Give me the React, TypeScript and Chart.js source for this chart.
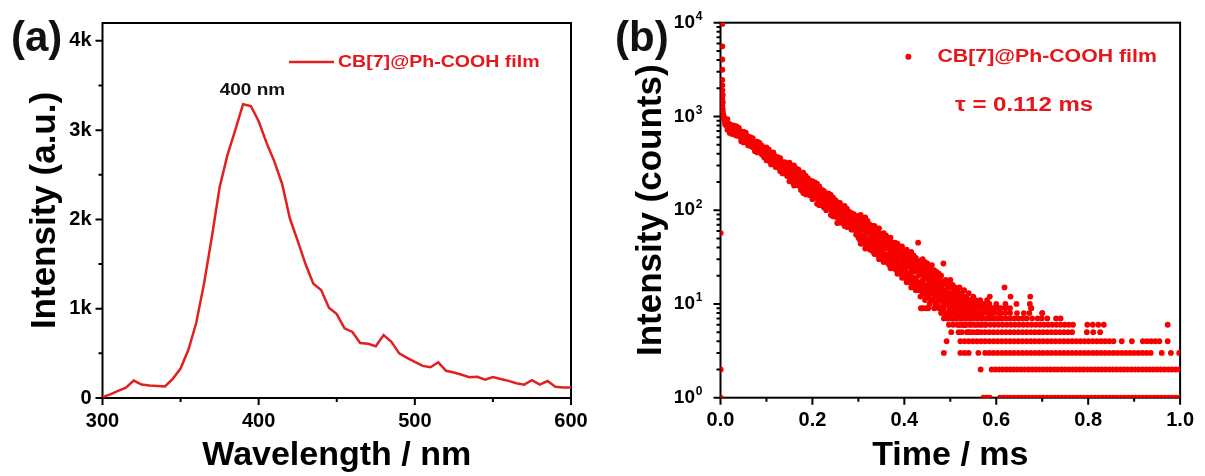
import React, { useEffect, useRef } from "react";
import { Chart, registerables } from "chart.js";
Chart.register(...registerables);

const FONT = "'Liberation Sans', Arial, Helvetica, sans-serif";

// ---------- Panel (a): emission spectrum ----------
const wavelengths = [300, 305, 310, 315, 320, 325, 330, 335, 340, 345, 350, 355, 360, 365, 370, 375, 380, 385, 390, 395, 400, 405, 410, 415, 420, 425, 430, 435, 440, 445, 450, 455, 460, 465, 470, 475, 480, 485, 490, 495, 500, 505, 510, 515, 520, 525, 530, 535, 540, 545, 550, 555, 560, 565, 570, 575, 580, 585, 590, 595, 600];
const intensities = [10, 40, 80, 115, 195, 150, 140, 135, 130, 215, 330, 540, 840, 1280, 1800, 2360, 2720, 3000, 3290, 3270, 3100, 2860, 2650, 2400, 2010, 1760, 1500, 1280, 1210, 1010, 940, 780, 740, 615, 608, 580, 705, 630, 500, 450, 405, 360, 345, 400, 305, 285, 260, 232, 238, 205, 235, 212, 192, 165, 150, 200, 150, 190, 125, 118, 118];
const spectrumXTicks = [300, 400, 500, 600];
const spectrumXMinorTicks = [350, 450, 550];
const spectrumYTicks = [0, 1000, 2000, 3000, 4000];
const spectrumYTickLabels = ["0", "1k", "2k", "3k", "4k"];
const spectrumYMinorTicks = [500, 1500, 2500, 3500];
const spectrumLabel = "CB[7]@Ph-COOH film";
const peakLabel = "400 nm";
const peakLabelPos = [396, 3440];

// ---------- Panel (b): decay curve ----------
const decaySpike = [
  [0.004, 9700], [0.004, 5600], [0.004, 4050], [0.004, 3150], [0.004, 2450], [0.004, 2150], [0.004, 1900],
  [0.005, 1700], [0.004, 1550], [0.005, 1420], [0.004, 1300], [0.005, 1200], [0.005, 1120], [0.006, 1050],
  [0.006, 990], [0.007, 1010], [0.007, 950], [0.008, 920], [0.009, 930], [0.009, 895], [0.010, 870],
  [0.010, 820], [0.011, 900], [0.011, 860], [0.012, 880], [0.012, 845], [0.013, 830], [0.013, 800],
  [0.0005, 57], [0.0005, 2], [0.0005, 1],
];
// each row: time (ms), then counts read at that time channel
const decayBand = [
  [0.015, 722, 788, 815, 938], [0.020, 667, 713, 783, 822], [0.025, 651, 718, 755, 807], [0.030, 641, 733, 769, 797],
  [0.035, 623, 637, 712, 781], [0.040, 619, 651, 724, 757], [0.045, 544, 581, 638, 670], [0.050, 529, 578, 596, 687],
  [0.055, 549, 578, 642, 672], [0.060, 493, 543, 571, 610], [0.065, 484, 554, 581, 603], [0.070, 470, 480, 537, 588],
  [0.075, 426, 455, 500, 525], [0.080, 413, 451, 466, 537], [0.085, 428, 450, 500, 523], [0.090, 392, 449, 471, 488],
  [0.095, 368, 405, 426, 456], [0.100, 340, 384, 408, 468], [0.105, 337, 402, 425, 444], [0.110, 308, 334, 367, 389],
  [0.115, 326, 344, 397, 414], [0.120, 289, 333, 346, 376], [0.125, 286, 295, 347, 369], [0.130, 261, 295, 313, 359],
  [0.135, 247, 268, 294, 312], [0.140, 247, 295, 312, 326], [0.145, 231, 266, 277, 301],
  [0.150, 203, 231, 249, 278, 321], [0.155, 207, 216, 251, 283, 298], [0.160, 183, 223, 247, 259, 301],
  [0.165, 185, 209, 223, 266, 277], [0.170, 185, 196, 230, 241, 271], [0.175, 164, 199, 205, 234, 244],
  [0.180, 153, 186, 206, 216, 251], [0.185, 148, 168, 181, 202, 234], [0.190, 147, 166, 177, 211, 220],
  [0.195, 144, 150, 174, 197, 207], [0.200, 131, 159, 164, 187, 204], [0.205, 135, 143, 168, 176, 198],
  [0.210, 117, 143, 158, 165, 192], [0.215, 113, 129, 139, 154, 179], [0.220, 115, 121, 140, 158, 166],
  [0.225, 107, 122, 130, 155, 161], [0.230, 100, 121, 125, 143, 149], [0.235, 103, 109, 128, 134, 151],
  [0.240, 89, 108, 120, 125, 146], [0.245, 86, 98, 106, 118, 136], [0.250, 85, 97, 103, 123, 128],
  [0.255, 73, 84, 88, 102, 115, 121], [0.260, 82, 86, 102, 106, 120], [0.265, 73, 88, 91, 104, 108],
  [0.270, 68, 83, 91, 96, 111], [0.275, 66, 75, 81, 90, 104], [0.280, 66, 70, 81, 91, 96],
  [0.285, 62, 71, 75, 90, 93], [0.290, 62, 66, 77, 81, 91], [0.295, 55, 67, 69, 79, 82],
  [0.300, 51, 63, 69, 73, 87], [0.305, 44, 54, 62, 72, 89], [0.310, 44, 49, 63, 73, 82],
  [0.315, 39, 54, 59, 75, 84], [0.320, 42, 49, 61, 65, 77], [0.325, 38, 45, 50, 67, 70],
  [0.330, 37, 40, 53, 61, 68], [0.335, 34, 41, 47, 55, 68], [0.340, 35, 41, 51, 54, 64],
  [0.345, 30, 41, 44, 57, 64], [0.350, 30, 35, 40, 53, 56], [0.355, 28, 34, 39, 46, 57],
  [0.360, 30, 34, 42, 45, 54], [0.365, 27, 30, 39, 45, 50], [0.370, 24, 33, 35, 46, 51],
  [0.375, 24, 28, 32, 42, 45], [0.380, 25, 28, 35, 38, 45], [0.385, 21, 26, 30, 35, 44],
  [0.390, 22, 24, 31, 36, 40], [0.395, 19, 26, 28, 36, 41], [0.400, 19, 23, 25, 34, 36],
  [0.405, 17, 21, 26, 30, 38], [0.410, 18, 20, 25, 31, 35], [0.415, 15, 22, 24, 29, 36],
  [0.420, 16, 19, 22, 27, 33], [0.425, 14, 18, 23, 25, 31], [0.430, 15, 17, 20, 26, 45],
  [0.435, 12, 16, 21, 24, 29], [0.440, 13, 17, 18, 23, 30], [0.445, 11, 15, 19, 22, 28],
  [0.450, 12, 14, 16, 21, 27], [0.455, 10, 13, 17, 20, 25], [0.460, 11, 14, 15, 19, 26],
  [0.465, 9, 12, 16, 18, 23], [0.470, 10, 13, 14, 17, 22], [0.475, 9, 11, 14, 16, 21],
  [0.480, 8, 12, 13, 15, 20], [0.485, 9, 10, 12, 16, 27], [0.490, 8, 11, 12, 14, 18],
  [0.495, 7, 10, 13, 15, 17], [0.500, 8, 9, 11, 13, 18], [0.505, 7, 10, 11, 12, 16],
  [0.510, 8, 9, 10, 13, 15], [0.515, 7, 8, 11, 12, 14], [0.520, 6, 8, 9, 11, 15],
  [0.525, 7, 9, 10, 12, 13], [0.530, 6, 8, 9, 11, 14], [0.535, 6, 7, 9, 10, 12],
  [0.540, 5, 8, 9, 10, 13], [0.545, 6, 7, 8, 10, 11], [0.550, 5, 7, 9, 10, 12],
  [0.555, 6, 8, 9, 11], [0.560, 5, 7, 8, 10], [0.565, 6, 8, 9, 11], [0.570, 7, 8, 10],
  [0.575, 6, 9, 10], [0.580, 7, 8, 9, 11], [0.585, 8, 10], [0.590, 7, 9], [0.595, 8, 9],
  [0.600, 7, 10], [0.605, 8, 9], [0.610, 7, 9], [0.620, 8, 10], [0.630, 9],
];
// in-between channels of the same decay
const decayBandMid = [
  [0.0175, 760, 845], [0.0225, 705, 790], [0.0275, 690, 770], [0.0325, 668, 745], [0.0375, 652, 710],
  [0.0425, 610, 690], [0.0475, 590, 660], [0.0525, 565, 630], [0.0575, 540, 610], [0.0625, 520, 590],
  [0.0675, 505, 560], [0.0725, 480, 545], [0.0775, 462, 515], [0.0825, 440, 500], [0.0875, 425, 478],
  [0.0925, 405, 462], [0.0975, 388, 440], [0.1025, 370, 425], [0.1075, 352, 410], [0.1125, 340, 390],
  [0.1175, 322, 375], [0.1225, 312, 358], [0.1275, 296, 342], [0.1325, 285, 330], [0.1375, 271, 315],
  [0.1425, 262, 302], [0.1475, 248, 290],
  [0.1525, 221, 262, 290], [0.1575, 228, 198, 268], [0.1625, 241, 212, 276], [0.1675, 196, 232, 251],
  [0.1725, 222, 180, 247], [0.1775, 176, 213, 229], [0.1825, 203, 171, 225], [0.1875, 160, 194, 212],
  [0.1925, 189, 158, 203], [0.1975, 152, 180, 194], [0.2025, 171, 139, 186], [0.2075, 146, 164, 181],
  [0.2125, 131, 156, 170], [0.2175, 150, 121, 164], [0.2225, 126, 145, 158], [0.2275, 116, 137, 149],
  [0.2325, 131, 110, 144], [0.2375, 106, 126, 138], [0.2425, 118, 97, 131], [0.2475, 99, 114, 127],
  [0.2525, 91, 109, 120], [0.2575, 104, 88, 116], [0.2625, 84, 99, 111], [0.2675, 95, 79, 106],
  [0.2725, 77, 90, 101], [0.2775, 87, 71, 97], [0.2825, 69, 82, 93], [0.2875, 79, 64, 89],
  [0.2925, 63, 76, 85], [0.2975, 72, 58, 81],
  [0.3025, 57, 69, 80, 49], [0.3075, 66, 53, 77, 47], [0.3125, 52, 64, 74, 45], [0.3175, 61, 48, 71, 42],
  [0.3225, 47, 58, 68, 41], [0.3275, 56, 44, 65, 38], [0.3325, 43, 53, 62, 36], [0.3375, 50, 40, 60, 35],
  [0.3425, 39, 48, 57, 33], [0.3475, 46, 37, 55, 32], [0.3525, 36, 44, 52, 31], [0.3575, 42, 34, 50, 29],
  [0.3625, 33, 41, 48, 28], [0.3675, 39, 31, 46, 26], [0.3725, 30, 37, 44, 25], [0.3775, 36, 28, 42, 24],
  [0.3825, 27, 34, 41, 23], [0.3875, 33, 26, 39, 22], [0.3925, 25, 31, 37, 21], [0.3975, 30, 24, 35, 20],
  [0.4025, 23, 28, 34, 19], [0.4075, 27, 21, 33, 18], [0.4125, 20, 26, 31, 17], [0.4175, 25, 19, 30, 16],
  [0.4225, 18, 24, 29, 16], [0.4275, 23, 17, 28, 15], [0.4325, 17, 22, 27, 14], [0.4375, 21, 16, 26, 14],
  [0.4425, 15, 20, 25, 13], [0.4475, 19, 15, 24, 12], [0.4525, 14, 18, 23, 12], [0.4575, 17, 13, 22, 11],
  [0.4625, 13, 16, 21, 11], [0.4675, 15, 12, 20, 10], [0.4725, 12, 15, 19, 10], [0.4775, 14, 11, 18, 9],
  [0.4825, 11, 14, 17, 9], [0.4875, 13, 10, 17, 8], [0.4925, 10, 12, 16, 8], [0.4975, 12, 9, 15, 8],
  [0.5025, 9, 11, 15, 7], [0.5075, 11, 9, 14, 7], [0.5125, 9, 10, 13, 7], [0.5175, 10, 8, 13, 6],
  [0.5225, 8, 10, 12, 7], [0.5275, 9, 8, 12, 6], [0.5325, 8, 9, 11, 6], [0.5375, 8, 9, 11],
  [0.5425, 7, 9, 11], [0.5475, 8, 10],
];
const decayOutliers = [
  [0.254, 73], [0.300, 87], [0.365, 49], [0.436, 9], [0.447, 9], [0.586, 12], [0.618, 15],
  [0.631, 12], [0.644, 10], [0.673, 10], [0.674, 12], [0.676, 9], [0.700, 8],
];
const decayTailCounts = [1, 2, 3, 4, 5, 6, 7, 8, 9];
const decayTailTimes = [
  [0.572, 0.579, 0.586, 0.608, 0.616, 0.624, 0.631, 0.639, 0.647, 0.655, 0.663, 0.671, 0.679, 0.687, 0.695, 0.703, 0.711, 0.719, 0.727, 0.735, 0.743, 0.751, 0.759, 0.767, 0.775, 0.783, 0.791, 0.799, 0.807, 0.815, 0.823, 0.831, 0.839, 0.847, 0.855, 0.863, 0.871, 0.879, 0.887, 0.895, 0.903, 0.911, 0.919, 0.927, 0.935, 0.943, 0.951, 0.959, 0.967, 0.975, 0.983, 0.991, 0.999],
  [0.566, 0.590, 0.598, 0.606, 0.614, 0.622, 0.630, 0.638, 0.646, 0.654, 0.662, 0.670, 0.678, 0.686, 0.694, 0.702, 0.710, 0.718, 0.726, 0.734, 0.742, 0.750, 0.758, 0.766, 0.774, 0.782, 0.790, 0.798, 0.806, 0.814, 0.822, 0.830, 0.838, 0.846, 0.854, 0.862, 0.870, 0.878, 0.886, 0.894, 0.902, 0.910, 0.918, 0.926, 0.934, 0.942, 0.950, 0.958, 0.966, 0.974, 0.982, 0.990, 0.998],
  [0.486, 0.522, 0.531, 0.540, 0.561, 0.576, 0.585, 0.594, 0.603, 0.612, 0.621, 0.630, 0.639, 0.648, 0.657, 0.666, 0.675, 0.684, 0.693, 0.702, 0.711, 0.720, 0.729, 0.738, 0.747, 0.756, 0.765, 0.774, 0.783, 0.792, 0.801, 0.810, 0.819, 0.828, 0.837, 0.846, 0.855, 0.864, 0.873, 0.882, 0.891, 0.900, 0.909, 0.918, 0.927, 0.936, 0.960, 0.980, 0.998],
  [0.492, 0.522, 0.531, 0.540, 0.549, 0.558, 0.567, 0.576, 0.585, 0.594, 0.603, 0.612, 0.621, 0.630, 0.639, 0.648, 0.657, 0.666, 0.675, 0.684, 0.693, 0.702, 0.711, 0.720, 0.729, 0.738, 0.747, 0.756, 0.765, 0.774, 0.783, 0.792, 0.801, 0.810, 0.819, 0.828, 0.837, 0.846, 0.855, 0.873, 0.895, 0.919, 0.928, 0.937, 0.946, 0.955, 0.973],
  [0.502, 0.518, 0.525, 0.536, 0.543, 0.558, 0.567, 0.576, 0.585, 0.594, 0.603, 0.612, 0.621, 0.630, 0.639, 0.648, 0.657, 0.666, 0.675, 0.684, 0.693, 0.702, 0.711, 0.720, 0.729, 0.738, 0.747, 0.756, 0.765, 0.797, 0.811, 0.826],
  [0.497, 0.506, 0.515, 0.524, 0.533, 0.542, 0.551, 0.560, 0.569, 0.578, 0.587, 0.596, 0.605, 0.614, 0.623, 0.632, 0.641, 0.650, 0.659, 0.668, 0.677, 0.686, 0.695, 0.704, 0.713, 0.722, 0.731, 0.740, 0.749, 0.758, 0.767, 0.798, 0.810, 0.822, 0.834, 0.973],
  [0.486, 0.495, 0.504, 0.513, 0.522, 0.531, 0.540, 0.549, 0.558, 0.567, 0.576, 0.585, 0.594, 0.603, 0.612, 0.621, 0.630, 0.639, 0.648, 0.657, 0.666, 0.678, 0.690, 0.699, 0.711, 0.730, 0.740],
  [0.488, 0.510, 0.530, 0.550, 0.570, 0.590, 0.610, 0.630, 0.645, 0.660, 0.672, 0.700],
  [0.440, 0.452, 0.500, 0.550, 0.600, 0.620, 0.676],
];
const decayXTicks = [0, 0.2, 0.4, 0.6, 0.8, 1.0];
const decayXTickLabels = ["0.0", "0.2", "0.4", "0.6", "0.8", "1.0"];
const decayXMinorTicks = [0.1, 0.3, 0.5, 0.7, 0.9];
const decayYTicks = [1, 10, 100, 1000, 10000];
const decayYExponents = ["0", "1", "2", "3", "4"];
const decayYMinorFactors = [2, 3, 4, 5, 6, 7, 8, 9];
const decayLabel = "CB[7]@Ph-COOH film";
const lifetimeLabel = "\u03c4 = 0.112 ms";

const LINE_RED = "#E1201F";
const DOT_RED = "#F70000";
const TEXT_RED = "#E5161C";

function drawText(ctx: CanvasRenderingContext2D, text: string, x: number, y: number, font: string, color: string, align: CanvasTextAlign, sx: number, baseline: CanvasTextBaseline = "middle") {
  ctx.save();
  ctx.font = font;
  ctx.fillStyle = color;
  ctx.textAlign = align;
  ctx.textBaseline = baseline;
  ctx.translate(x, y);
  ctx.scale(sx, 1);
  ctx.fillText(text, 0, 0);
  ctx.restore();
}

function makeFramePlugin(xMajor: number[], xMinor: number[], yMajor: number[], yMinor: number[]) {
  return {
    id: "frame",
    beforeDatasetsDraw(chart: any) {
      const { ctx, chartArea: a, scales } = chart;
      const xs = scales.x, ys = scales.y;
      ctx.save();
      ctx.strokeStyle = "#000";
      ctx.lineWidth = 2;
      ctx.strokeRect(a.left, a.top, a.right - a.left, a.bottom - a.top);
      ctx.beginPath();
      const vt = (v: number, len: number) => {
        const p = xs.getPixelForValue(v);
        ctx.moveTo(p, a.bottom);
        ctx.lineTo(p, a.bottom + len);
      };
      const ht = (v: number, len: number) => {
        const p = ys.getPixelForValue(v);
        ctx.moveTo(a.left, p);
        ctx.lineTo(a.left - len, p);
      };
      xMajor.forEach((v) => vt(v, 7));
      xMinor.forEach((v) => vt(v, 4));
      yMajor.forEach((v) => ht(v, 7));
      yMinor.forEach((v) => ht(v, 4));
      ctx.stroke();
      ctx.restore();
    },
  };
}

const tickFont = { family: FONT, size: 20, weight: "bold" as const };
const titleFont = (size: number) => ({ family: FONT, size, weight: "bold" as const });

export default function App() {
  const refA = useRef<HTMLCanvasElement>(null);
  const refB = useRef<HTMLCanvasElement>(null);

  useEffect(() => {
    // ---- Panel (a)
    const annotA = {
      id: "annotA",
      afterDraw(chart: any) {
        const { ctx, scales } = chart;
        drawText(ctx, "(a)", 11, 50.5, `bold 42px ${FONT}`, "#111", "left", 1, "alphabetic");
        ctx.save();
        ctx.strokeStyle = LINE_RED;
        ctx.lineWidth = 2.5;
        ctx.beginPath();
        ctx.moveTo(289, 62);
        ctx.lineTo(334, 62);
        ctx.stroke();
        ctx.restore();
        drawText(ctx, spectrumLabel, 338, 62, `bold 17px ${FONT}`, TEXT_RED, "left", 1.15);
        const px = scales.x.getPixelForValue(peakLabelPos[0]);
        const py = scales.y.getPixelForValue(peakLabelPos[1]);
        drawText(ctx, peakLabel, px, py, `bold 16.5px ${FONT}`, "#111", "center", 1.15);
      },
    };
    const chartA = new Chart(refA.current as HTMLCanvasElement, {
      type: "line",
      data: {
        datasets: [
          {
            label: spectrumLabel,
            data: wavelengths.map((w, i) => ({ x: w, y: intensities[i] })),
            borderColor: LINE_RED,
            borderWidth: 2.5,
            pointRadius: 0,
            tension: 0,
            fill: false,
          },
        ],
      },
      options: {
        responsive: false,
        maintainAspectRatio: false,
        animation: false,
        layout: { padding: { left: 24.7, right: 34, top: 23, bottom: 0 } },
        plugins: { legend: { display: false }, tooltip: { enabled: false } },
        scales: {
          x: {
            type: "linear",
            min: 300,
            max: 600,
            afterBuildTicks: (s: any) => { s.ticks = spectrumXTicks.map((v) => ({ value: v })); },
            afterFit: (s: any) => { s.height = 78; },
            ticks: { font: tickFont, color: "#000", padding: 11, maxRotation: 0, autoSkip: false, callback: (v: any) => String(v) },
            grid: { display: false, drawTicks: false },
            border: { display: false },
            title: { display: true, text: "Wavelength / nm", font: titleFont(34), color: "#000", padding: 0 },
          },
          y: {
            type: "linear",
            min: 0,
            max: 4200,
            afterBuildTicks: (s: any) => { s.ticks = spectrumYTicks.map((v) => ({ value: v })); },
            afterFit: (s: any) => { s.width = 77.8; },
            ticks: { font: tickFont, color: "#000", padding: 11, autoSkip: false, callback: (_v: any, i: number) => spectrumYTickLabels[i] },
            grid: { display: false, drawTicks: false },
            border: { display: false },
            title: { display: true, text: "Intensity (a.u.)", font: titleFont(35), color: "#000", padding: 0 },
          },
        },
      } as any,
      plugins: [makeFramePlugin(spectrumXTicks, spectrumXMinorTicks, spectrumYTicks, spectrumYMinorTicks), annotA],
    });

    // ---- Panel (b)
    const points: { x: number; y: number }[] = [];
    decaySpike.forEach(([t, c]) => points.push({ x: t, y: c }));
    [...decayBand, ...decayBandMid].forEach((row) => {
      for (let i = 1; i < row.length; i++) points.push({ x: row[0], y: row[i] });
    });
    decayOutliers.forEach(([t, c]) => points.push({ x: t, y: c }));
    decayTailTimes.forEach((times, li) => times.forEach((t) => points.push({ x: t, y: decayTailCounts[li] })));

    const yMinor: number[] = [];
    decayYTicks.slice(0, -1).forEach((d) => decayYMinorFactors.forEach((f) => yMinor.push(d * f)));

    const annotB = {
      id: "annotB",
      afterDraw(chart: any) {
        const { ctx, scales, chartArea: a } = chart;
        drawText(ctx, "(b)", 10, 51, `bold 42px ${FONT}`, "#111", "left", 1, "alphabetic");
        decayYTicks.forEach((v, i) => {
          const py = scales.y.getPixelForValue(v);
          drawText(ctx, "10", a.left - 25.5, py, `bold 19px ${FONT}`, "#000", "right", 1);
          drawText(ctx, decayYExponents[i], a.left - 24.8, py - 6, `bold 12px ${FONT}`, "#000", "left", 1);
        });
        ctx.save();
        ctx.fillStyle = DOT_RED;
        ctx.beginPath();
        ctx.arc(303.4, 56.7, 3, 0, Math.PI * 2);
        ctx.fill();
        ctx.restore();
        drawText(ctx, decayLabel, 332.5, 56.7, `bold 18.5px ${FONT}`, TEXT_RED, "left", 1.15);
        drawText(ctx, lifetimeLabel, 350, 105, `bold 20px ${FONT}`, TEXT_RED, "left", 1.2);
      },
    };

    const chartB = new Chart(refB.current as HTMLCanvasElement, {
      type: "scatter",
      data: {
        datasets: [
          {
            label: decayLabel,
            data: points,
            backgroundColor: DOT_RED,
            borderWidth: 0,
            pointRadius: 2.9,
            clip: 0,
          },
        ],
      },
      options: {
        responsive: false,
        maintainAspectRatio: false,
        animation: false,
        layout: { padding: { left: 25.4, right: 20, top: 22.7, bottom: 0 } },
        plugins: { legend: { display: false }, tooltip: { enabled: false } },
        scales: {
          x: {
            type: "linear",
            min: 0,
            max: 1,
            afterBuildTicks: (s: any) => { s.ticks = decayXTicks.map((v) => ({ value: v })); },
            afterFit: (s: any) => { s.height = 78.3; },
            ticks: { font: tickFont, color: "#000", padding: 11, maxRotation: 0, autoSkip: false, callback: (_v: any, i: number) => decayXTickLabels[i] },
            grid: { display: false, drawTicks: false },
            border: { display: false },
            title: { display: true, text: "Time / ms", font: titleFont(34), color: "#000", padding: 0 },
          },
          y: {
            type: "logarithmic",
            min: 1,
            max: 10000,
            afterFit: (s: any) => { s.width = 90.1; },
            ticks: { display: false },
            grid: { display: false, drawTicks: false },
            border: { display: false },
            title: { display: true, text: "Intensity (counts)", font: titleFont(35), color: "#000", padding: 0 },
          },
        },
      } as any,
      plugins: [makeFramePlugin(decayXTicks, decayXMinorTicks, decayYTicks, yMinor), annotB],
    });

    return () => {
      chartA.destroy();
      chartB.destroy();
    };
  }, []);

  return (
    <div style={{ position: "absolute", left: 0, top: 0, width: 1205, height: 476, background: "#fff" }}>
      <canvas ref={refA} width={605} height={476} style={{ position: "absolute", left: 0, top: 0 }} />
      <canvas ref={refB} width={600} height={476} style={{ position: "absolute", left: 605, top: 0 }} />
    </div>
  );
}
